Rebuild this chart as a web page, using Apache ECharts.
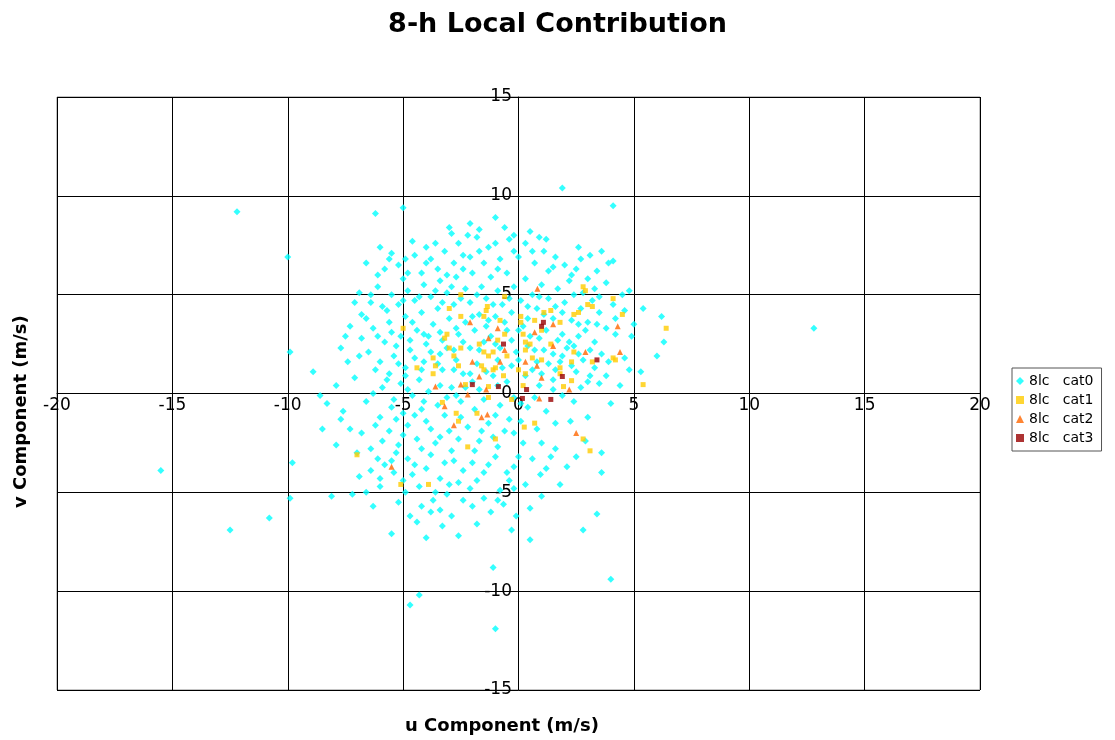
<!DOCTYPE html>
<html>
<head>
<meta charset="utf-8">
<script src="https://cdn.jsdelivr.net/npm/echarts@6/dist/echarts.min.js"></script>
<style>html,body{margin:0;padding:0;background:#fff}#chart{width:1115px;height:740px}</style>
</head>
<body>
<div id="chart"></div>
<script>
var xTicks = [-20, -15, -10, -5, 0, 5, 10, 15, 20];
var yTicks = [-15, -10, -5, 0, 5, 10, 15];

var cat0 = [
  [-10,6.9],[-12.2,9.2],[-5.0,9.4],[1.9,10.4],[4.1,9.5],[12.8,3.3],[-15.5,-3.9],[-12.5,-6.9],[-10.8,-6.3],
  [-9.9,2.1],[-9.8,-3.5],[-9.9,-5.3],[-8.9,1.1],[-8.3,-0.5],[-8.5,-1.8],[-8.1,-5.2],[-7.9,0.4],[-7.2,-5.1],
  [-6.6,-5.0],[-6.3,-5.7],[-6.0,-4.7],[-5.5,-7.1],[-4.7,-10.7],[-4.3,-10.2],[-1.0,-11.9],[-1.1,-8.8],[4.0,-9.4],
  [3.4,-6.1],[2.8,-6.9],[0.5,-7.4],[0.5,-5.8],[3.6,-4.0],[3.6,-3.0],[6.0,1.9],[6.3,2.6],[6.2,3.9],[5.4,4.3],
  [4.6,4.2],[4.1,6.7],[4.1,4.5],[3.4,6.2],[3.1,7.0],[2.0,6.5],[0.9,7.9],[-1.0,8.9],[-2.1,8.6],[-2.9,8.1],
  [-4.6,7.7],[-5.5,7.1],[-6.2,9.1],[-4.0,7.4],[-6.0,7.4],[-6.9,5.1],[-7.1,4.6],[-6.4,4.6],[-6.6,3.8],[-7.7,2.3],
  [-7.4,1.6],[-6.8,2.8],[-6.4,-3.9],[-6.0,-4.3],[-5.5,-3.4],[-4.3,-4.7],[-3.7,-5.4],[-3.4,-5.9],[-2.9,-6.2],
  [-4.7,-6.2],[-4.4,-6.5],[-4.0,-7.3],[-2.6,-7.2],[-2.1,-4.8],[-1.5,-5.3],[-0.65,-5.6],[-0.3,-6.9],[-0.2,-4.8],
  [0.95,-4.1],[1.6,-2.8],[2.25,-1.4],[2.9,-2.4],[4.4,0.4],[4.6,1.8],
  [-5.8,6.3],[-5.2,6.5],[-4.5,7.0],[-3.8,6.8],[-3.2,7.2],[-2.6,7.6],[-1.8,7.9],[-1.3,7.4],[-0.4,7.8],[0.3,7.6],
  [1.1,7.2],[1.6,6.9],[2.5,6.3],[3.0,5.8],[3.8,5.6],[-5.0,5.8],[-4.2,6.1],[-3.5,6.3],[-2.8,6.6],[-2.1,6.9],
  [-1.5,6.6],[-0.8,6.8],[0.0,6.9],[0.7,6.6],[1.3,6.2],[2.2,5.7],[2.8,5.1],[3.5,4.9],[-6.1,5.4],[-5.5,5.0],
  [-4.8,5.2],[-4.1,5.5],[-3.4,5.7],[-2.7,5.9],[-2.0,6.1],[-1.2,5.9],[-0.5,6.1],[0.3,5.8],[1.0,5.5],[1.7,5.3],
  [2.4,5.0],[3.2,4.7],[-5.9,4.4],[-5.2,4.5],[-4.5,4.7],[-3.8,4.9],[-3.1,5.1],[-2.3,5.3],[-1.6,5.4],[-0.9,5.2],
  [-0.2,5.4],[0.6,5.0],[1.3,4.8],[2.0,4.6],[2.7,4.3],[3.5,4.1],[-6.3,3.3],[-5.6,3.6],[-4.9,3.9],[-4.2,4.1],
  [-3.5,4.3],[-2.8,4.5],[-2.1,4.6],[-1.4,4.8],[-0.7,4.5],[0.1,4.7],[0.8,4.3],[1.6,4.4],[2.3,3.7],[3.0,3.6],
  [3.8,3.3],[-5.8,2.6],[-5.1,2.9],[-4.4,3.2],[-3.7,3.5],[-3.0,3.8],[-2.3,3.6],[-1.7,4.0],[-1.0,3.9],[-0.3,4.1],
  [0.4,3.8],[1.2,3.2],[1.9,3.0],[2.6,2.9],[3.3,2.6],[-6.5,2.1],[-5.4,1.9],[-4.7,2.2],[-4.0,2.5],[-3.3,2.7],
  [-2.6,3.0],[-1.9,3.2],[-1.2,2.9],[-0.5,3.2],[0.5,2.9],[1.5,2.0],[2.1,2.3],[2.8,1.7],[3.6,2.0],[-6.2,1.2],
  [-5.6,1.0],[-4.9,1.3],[-4.1,1.6],[-3.4,2.0],[-2.7,1.7],[-2.1,2.3],[-1.5,2.6],[-0.8,2.3],[-0.1,2.1],[0.7,2.2],
  [1.3,1.5],[2.5,1.1],[3.1,0.9],[-5.9,0.3],[-5.1,0.5],[-4.3,0.7],[-3.3,1.2],[-2.4,1.0],[-1.8,1.5],[-0.9,1.7],
  [-0.3,1.4],[0.6,1.2],[1.5,0.7],[2.7,0.3],[3.5,0.5],[-6.6,-0.4],[-5.4,-0.3],[-4.6,-0.1],[-3.9,0.1],[-2.9,0.3],
  [-1.7,0.2],[-0.5,0.6],[0.9,0.4],[1.9,-0.1],[-6.0,-1.2],[-5.0,-1.0],[-4.2,-0.8],[-3.5,-0.6],[-2.5,-0.4],[-1.9,-0.8],
  [-0.8,-0.6],[0.4,-0.7],[1.2,-0.9],[-6.8,-2.0],[-5.6,-1.9],[-4.8,-1.6],[-4.0,-1.4],[-3.0,-1.9],[-2.2,-1.7],
  [-1.3,-1.5],[-0.4,-1.3],[0.8,-1.8],[-6.4,-2.8],[-5.2,-2.6],[-4.4,-2.3],[-3.6,-2.5],[-2.9,-2.9],[-1.7,-2.4],
  [-0.9,-2.7],[0.2,-2.5],[1.4,-3.2],[-5.8,-3.6],[-4.8,-3.3],[-4.0,-3.8],[-3.2,-3.5],[-2.4,-3.9],[-1.3,-3.6],
  [-0.5,-4.0],[0.6,-3.3],[-5.0,-4.4],[-3.0,-4.6],[-1.8,-4.4],[-0.8,-4.9],[0.0,-3.2],[-3.6,-5.0],[-2.4,-5.4],
  [-4.2,-5.7],[-1.2,-6.0],[2.1,-3.7],[-7.3,3.4],[-7.6,-0.9],[-7.0,-3.0],[-8.6,-0.1],[4.9,2.9],[5.3,1.1],
  [4.8,5.2],[3.9,6.6],[2.6,7.4],[-2.4,7.0],[-3.6,7.6],[-0.2,8.0],[-1.7,8.3],[-4.9,6.8],[-6.8,4.0],[-7.3,-1.8],
  [-3.1,-0.2],[-2.0,0.6],[-1.1,0.9],[-0.2,-0.2],[0.3,0.9],[1.0,1.0],[1.8,1.6],[2.2,2.6],[-0.6,-1.9],[-2.8,2.2],
  [-3.9,2.9],[-1.4,3.4],[0.0,3.2],[1.5,3.8],[2.9,3.2],[-0.9,6.3],[0.9,4.9],[-3.3,4.6],[-4.6,3.6],[-5.3,2.4],
  [-5.6,6.8],[-4.8,6.1],[-4.0,6.6],[-3.1,6.0],[-2.4,6.3],[-1.7,7.2],[-1.0,7.6],[-0.2,7.2],[0.6,7.2],[1.5,6.4],
  [2.3,6.0],[3.3,5.3],[-6.4,5.0],[-5.7,4.2],[-5.0,4.7],[-4.3,4.9],[-3.6,5.2],[-2.9,5.4],[-2.5,4.8],[-1.8,5.0],
  [-1.1,4.5],[-0.4,4.8],[0.4,4.4],[1.1,4.0],[1.9,4.1],[2.6,3.5],[3.4,3.5],[4.2,3.0],[-6.1,2.9],[-5.5,3.1],
  [-4.7,2.7],[-4.1,3.0],[-3.4,3.1],[-2.7,3.3],[-2.0,3.9],[-1.3,3.7],[-0.6,3.6],[0.2,3.4],[0.9,2.8],[1.7,2.7],
  [2.4,2.4],[3.1,2.2],[3.9,1.6],[-6.0,1.6],[-5.2,1.5],[-4.5,1.8],[-3.8,2.1],[-3.1,2.3],[-2.4,2.6],[-1.7,2.2],
  [-1.0,2.5],[-0.3,2.7],[0.4,2.4],[1.1,2.2],[1.9,1.9],[2.6,2.0],[3.3,1.3],[-5.7,0.7],[-4.9,0.9],[-4.2,1.2],
  [-3.5,1.5],[-2.8,1.2],[-2.1,1.0],[-1.4,1.1],[-0.7,1.3],[0.0,1.7],[0.8,1.6],[1.6,1.2],[2.3,1.4],[3.0,0.6],
  [-6.3,0.0],[-5.5,-0.7],[-4.8,0.2],[-4.1,-0.4],[-3.4,0.4],[-2.7,-0.1],[-2.3,0.3],[-1.5,-0.3],[-0.9,0.4],
  [0.1,-0.5],[0.7,-0.2],[1.5,0.2],[2.4,-0.4],[-6.2,-1.6],[-5.3,-1.3],[-4.5,-1.1],[-3.8,-1.8],[-3.2,-1.1],
  [-2.5,-1.2],[-1.6,-1.9],[-1.0,-1.1],[0.1,-1.4],[1.6,-1.5],[-5.9,-2.4],[-5.0,-2.1],[-4.2,-2.8],[-3.4,-2.2],
  [-2.6,-2.3],[-1.9,-2.9],[-1.1,-2.2],[-0.2,-2.0],[1.0,-2.5],[-6.1,-3.3],[-5.3,-3.0],[-4.5,-3.6],[-3.8,-3.1],
  [-2.8,-3.4],[-2.0,-3.5],[-1.0,-3.2],[-0.2,-3.7],[1.2,-3.8],[-5.4,-4.0],[-4.6,-4.1],[-3.4,-4.3],[-2.6,-4.5],
  [-1.5,-4.0],[-0.4,-4.4],[0.3,-4.6],[-4.9,-5.0],[-3.1,-5.1],[-2.0,-5.7],[-0.9,-5.4],[-3.8,-6.0],[-5.2,-5.5],
  [-7.7,-1.3],[-7.1,0.8],[-6.9,1.9],[-7.5,2.9],[-7.9,-2.6],[-6.9,-4.2],[-6.1,6.0],[-6.6,6.6],[-3.0,8.4],
  [-2.2,8.0],[-0.6,8.4],[0.5,8.2],[1.2,7.8],[2.7,6.8],[3.6,7.2],[4.5,5.0],[4.2,3.8],[5.0,3.5],[4.8,1.2],
  [3.8,0.9],[4.0,-0.5],[3.0,-1.2],[2.5,-3.2],[1.8,-4.6],[1.0,-5.2],[-0.1,-6.2],[-1.8,-6.6],[-3.3,-6.7]
];
var cat1 = [
  [-2.5,5.0],[-0.6,4.9],[2.8,5.4],[2.9,5.2],[4.1,4.8],[-1.35,4.4],[-3.0,4.3],[-1.4,4.2],[-2.5,3.9],[-1.5,3.9],
  [0.1,3.9],[1.1,4.1],[1.4,4.2],[2.4,4.0],[2.6,4.1],[3.0,4.5],[3.2,4.4],[4.5,4.0],[-5.0,3.3],[-0.8,3.7],
  [0.1,3.6],[0.7,3.7],[1.8,3.6],[-3.1,3.0],[-3.2,2.8],[-0.6,3.0],[0.2,3.0],[1.0,3.2],[-1.7,2.5],[-0.9,2.7],
  [0.3,2.6],[0.5,2.5],[1.4,2.5],[-3.0,2.3],[-2.5,2.3],[-1.5,2.1],[-1.1,2.1],[0.3,2.2],[2.4,2.1],[-2.8,1.9],
  [-1.3,1.9],[-0.5,1.9],[-3.7,1.8],[0.6,1.8],[1.0,1.7],[3.2,1.6],[4.2,1.7],[2.3,1.6],[-4.4,1.3],[-3.6,1.4],
  [-2.6,1.4],[-1.6,1.4],[-1.0,1.3],[1.8,1.3],[-3.7,1.0],[-1.5,1.2],[-1.1,1.2],[0.0,1.2],[0.3,1.0],[1.8,1.0],
  [-0.65,0.9],[2.3,0.65],[-2.3,0.45],[-1.3,0.35],[0.2,0.4],[1.95,0.35],[5.4,0.45],[-1.3,-0.2],[-0.3,-0.3],
  [-3.3,-0.45],[-2.7,-1.0],[-1.8,-1.0],[-2.6,-1.4],[0.7,-1.5],[0.25,-1.7],[-1.0,-2.3],[2.8,-2.3],[3.1,-2.9],
  [-2.2,-2.7],[-5.1,-4.6],[-3.9,-4.6],[-7.0,-3.1],[6.4,3.3],[4.1,1.8]
];
var cat2 = [
  [0.82,5.3],[-2.1,3.6],[-0.9,3.3],[0.7,3.1],[1.5,3.5],[4.3,3.4],[-1.3,2.8],[1.5,2.4],[-0.6,2.2],[2.9,2.1],
  [4.4,2.1],[-2.0,1.6],[-0.8,1.6],[0.3,1.6],[0.8,1.4],[1.0,0.8],[-1.7,0.86],[-3.6,0.35],[-2.5,0.45],[-2.2,-0.05],
  [-1.4,0.2],[2.2,0.2],[0.9,-0.25],[-3.2,-0.65],[-1.35,-1.06],[-1.6,-1.2],[-2.8,-1.6],[2.5,-2.0],[-5.5,-3.7]
];
var cat3 = [
  [1.08,3.6],[1.0,3.4],[-0.65,2.5],[3.4,1.7],[1.9,0.86],[-2.0,0.45],[0.35,0.2],[0.17,-0.25],[1.4,-0.3],[-0.87,0.35]
];

var chart = echarts.init(document.getElementById('chart'));
var font = 'Verdana, "DejaVu Sans", sans-serif';
function tickFmt(list) {
  return function (v) { return list.indexOf(v) >= 0 ? String(v) : ''; };
}
chart.setOption({
  animation: false,
  title: {
    text: '8-h Local Contribution', left: 'center', top: 6,
    textStyle: { fontFamily: font, fontSize: 27, fontWeight: 'bold', color: '#000' }
  },
  grid: { left: 57, right: 135, top: 97, bottom: 50, show: true, borderColor: '#888', borderWidth: 1 },
  xAxis: {
    type: 'value', min: -20, max: 20, interval: 5, position: 'bottom', offset: -297,
    axisLine: { onZero: false, lineStyle: { color: '#000' } },
    axisTick: { show: true, inside: false, length: 5, lineStyle: { color: '#000' } },
    axisLabel: { color: '#000', fontSize: 17, fontFamily: font, margin: 4, formatter: tickFmt(xTicks) },
    splitLine: { lineStyle: { color: '#000', width: 1 } }
  },
  yAxis: {
    type: 'value', min: -15, max: 15, interval: 5, position: 'left', offset: -461,
    axisLine: { onZero: false, lineStyle: { color: '#000' } },
    axisTick: { show: true, length: 5, lineStyle: { color: '#000' } },
    axisLabel: { color: '#000', fontSize: 17, fontFamily: font, margin: 6, formatter: tickFmt(yTicks) },
    splitLine: { lineStyle: { color: '#000', width: 1 } }
  },
  legend: {
    orient: 'vertical', left: 1012, top: 368, borderColor: '#555', borderWidth: 1,
    padding: [6, 8, 6, 4], itemGap: 5, itemWidth: 8, itemHeight: 8,
    textStyle: { fontFamily: font, fontSize: 14, color: '#000' },
    data: ['8lc   cat0', '8lc   cat1', '8lc   cat2', '8lc   cat3']
  },
  graphic: [
    { type: 'text', left: 405, top: 717, style: { text: 'u Component (m/s)', font: 'bold 18px ' + font, fill: '#000' } },
    { type: 'text', x: 12, y: 508, rotation: Math.PI / 2, style: { text: 'v Component (m/s)', font: 'bold 18px ' + font, fill: '#000' } }
  ],
  series: [
    { name: '8lc   cat0', type: 'scatter', data: cat0, symbol: 'diamond', symbolSize: 7, itemStyle: { color: '#00FFFF' } },
    { name: '8lc   cat1', type: 'scatter', data: cat1, symbol: 'rect', symbolSize: 5, itemStyle: { color: '#FFCC00' } },
    { name: '8lc   cat2', type: 'scatter', data: cat2, symbol: 'triangle', symbolSize: 6, itemStyle: { color: '#FF6600' } },
    { name: '8lc   cat3', type: 'scatter', data: cat3, symbol: 'rect', symbolSize: 5, itemStyle: { color: '#990000' } }
  ]
});
</script>
</body>
</html>
